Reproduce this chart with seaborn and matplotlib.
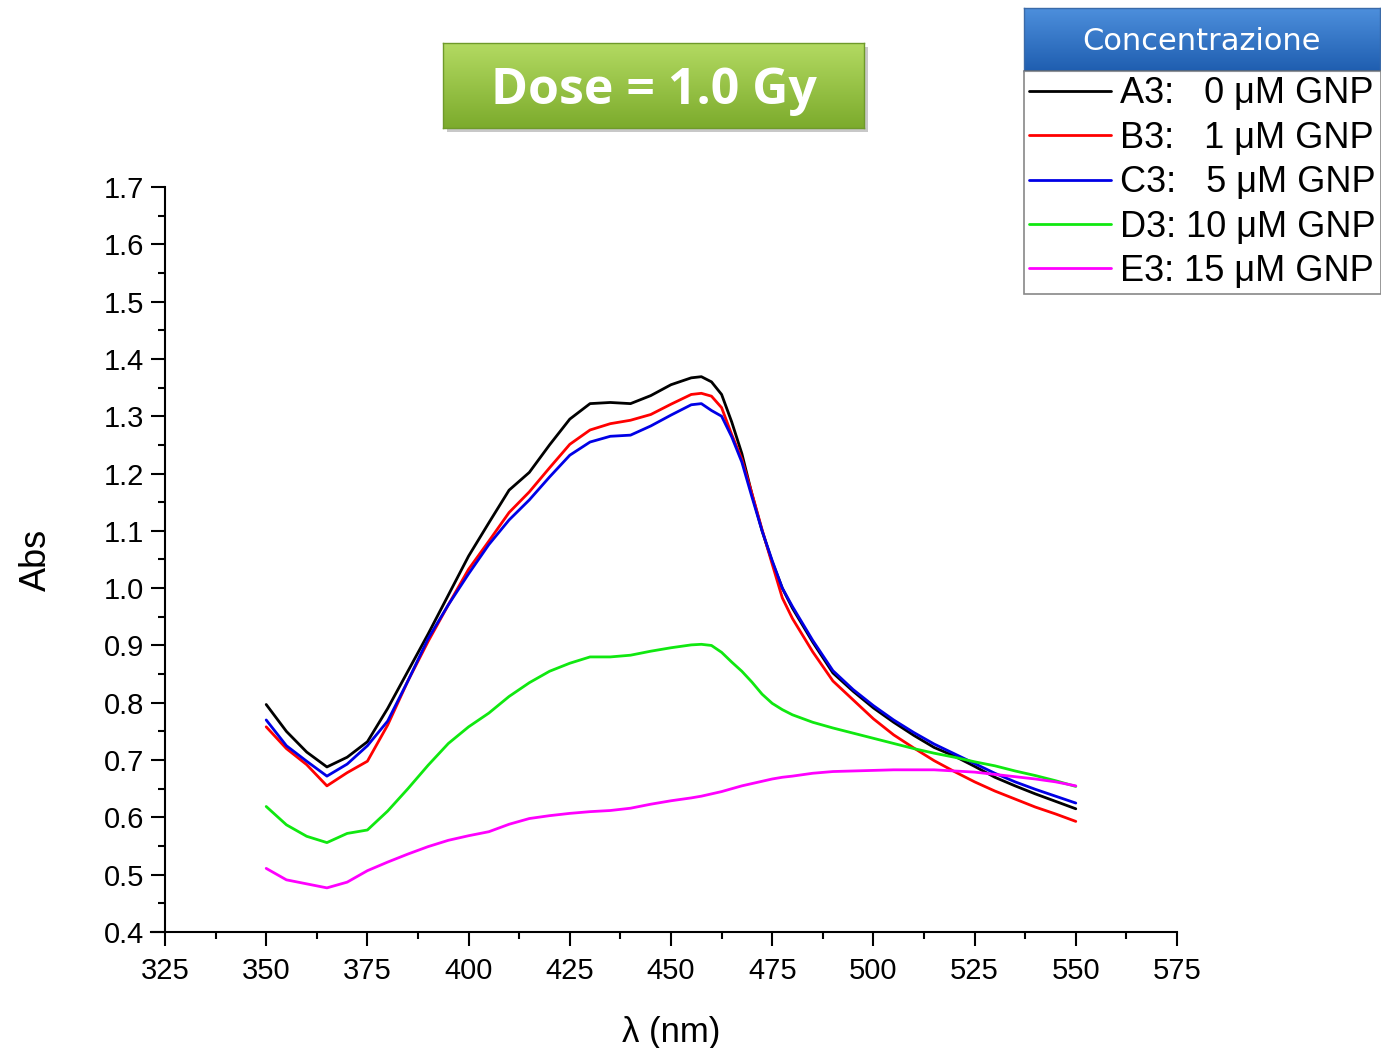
import numpy as np
import pandas as pd
import matplotlib
matplotlib.use("Agg")
import matplotlib.pyplot as plt
import seaborn as sns
from matplotlib.ticker import MultipleLocator, FormatStrFormatter

sns.set_theme(style="ticks")
plt.rcParams['font.family'] = ['Liberation Sans', 'DejaVu Sans']
plt.rcParams['text.color'] = 'black'

# wavelength grid (nm)
wavelength = list(range(350, 456, 5)) + [457.5, 460, 462.5, 465, 467.5, 470, 472.5, 475, 477.5, 480] \
    + list(range(485, 551, 5))

abs_a3 = [0.797, 0.750, 0.714, 0.688, 0.705, 0.732, 0.790, 0.855, 0.920, 0.988,
          1.056, 1.114, 1.171, 1.202, 1.250, 1.295, 1.322, 1.324, 1.322, 1.336,
          1.355, 1.367,
          1.369, 1.360, 1.338, 1.290, 1.235, 1.164, 1.100, 1.046, 1.000, 0.965,
          0.906, 0.852, 0.820, 0.791, 0.766, 0.743, 0.722, 0.707, 0.689, 0.670,
          0.655, 0.641, 0.628, 0.615]
abs_b3 = [0.758, 0.720, 0.692, 0.655, 0.678, 0.698, 0.761, 0.838, 0.907, 0.971,
          1.033, 1.082, 1.132, 1.168, 1.210, 1.251, 1.276, 1.287, 1.293, 1.303,
          1.321, 1.338,
          1.340, 1.335, 1.315, 1.268, 1.225, 1.165, 1.102, 1.042, 0.983, 0.947,
          0.889, 0.838, 0.805, 0.772, 0.744, 0.721, 0.699, 0.680, 0.662, 0.646,
          0.632, 0.618, 0.606, 0.593]
abs_c3 = [0.770, 0.725, 0.698, 0.672, 0.693, 0.725, 0.768, 0.838, 0.912, 0.971,
          1.025, 1.076, 1.119, 1.154, 1.194, 1.232, 1.255, 1.265, 1.267, 1.283,
          1.302, 1.320,
          1.322, 1.310, 1.300, 1.264, 1.220, 1.159, 1.100, 1.048, 1.000, 0.968,
          0.909, 0.856, 0.823, 0.795, 0.770, 0.748, 0.728, 0.711, 0.694, 0.677,
          0.662, 0.649, 0.637, 0.625]
abs_d3 = [0.619, 0.587, 0.567, 0.556, 0.572, 0.578, 0.611, 0.650, 0.691, 0.729,
          0.758, 0.782, 0.811, 0.835, 0.855, 0.869, 0.880, 0.880, 0.883, 0.890,
          0.896, 0.901,
          0.902, 0.900, 0.888, 0.871, 0.855, 0.836, 0.815, 0.799, 0.788, 0.779,
          0.766, 0.756, 0.747, 0.738, 0.729, 0.720, 0.712, 0.705, 0.697, 0.690,
          0.681, 0.673, 0.664, 0.654]
abs_e3 = [0.511, 0.491, 0.484, 0.477, 0.487, 0.507, 0.522, 0.536, 0.549, 0.560,
          0.568, 0.575, 0.588, 0.598, 0.603, 0.607, 0.610, 0.612, 0.616, 0.623,
          0.629, 0.634,
          0.637, 0.641, 0.645, 0.650, 0.655, 0.659, 0.663, 0.667, 0.670, 0.672,
          0.677, 0.680, 0.681, 0.682, 0.683, 0.683, 0.683, 0.681, 0.679, 0.675,
          0.671, 0.667, 0.662, 0.655]

labels = ["A3:   0 \u03bcM GNP", "B3:   1 \u03bcM GNP", "C3:   5 \u03bcM GNP",
          "D3: 10 \u03bcM GNP", "E3: 15 \u03bcM GNP"]
colors = ["#000000", "#ff0000", "#0000e6", "#10e810", "#ff00ff"]

series = [abs_a3, abs_b3, abs_c3, abs_d3, abs_e3]
df = pd.DataFrame({
    'wl': wavelength * len(series),
    'abs': sum(series, []),
    'sample': np.repeat(labels, len(wavelength)),
})

fig = plt.figure(figsize=(13.81, 10.48), dpi=100)
ax = fig.add_axes([165 / 1381, 1 - 932 / 1048, (1177 - 165) / 1381, (932 - 187) / 1048])

sns.lineplot(data=df, x='wl', y='abs', hue='sample', hue_order=labels,
             palette=colors, linewidth=2.0, ax=ax, legend=False)

ax.set_xlim(325, 575)
ax.set_ylim(0.4, 1.7)
ax.xaxis.set_major_locator(MultipleLocator(25))
ax.xaxis.set_minor_locator(MultipleLocator(12.5))
ax.yaxis.set_major_locator(MultipleLocator(0.1))
ax.yaxis.set_minor_locator(MultipleLocator(0.05))
ax.yaxis.set_major_formatter(FormatStrFormatter('%.1f'))
ax.tick_params(which='major', direction='out', length=10, width=1.5,
               labelsize=21, color='black', labelcolor='black', pad=5)
ax.tick_params(which='minor', direction='out', length=5, width=1.5, color='black')
ax.tick_params(axis='x', which='major', pad=8)
for side in ['top', 'right']:
    ax.spines[side].set_visible(False)
for side in ['left', 'bottom']:
    ax.spines[side].set_color('black')
    ax.spines[side].set_linewidth(1.5)
ax.spines['bottom'].set_bounds(321.6, 575)
ax.set_xlabel("\u03bb (nm)", fontsize=25, labelpad=22, color='black')
ax.set_ylabel("Abs", fontsize=26, labelpad=36, color='black')

# legend, with the blue header box above it
leg = fig.legend(ax.get_lines(), labels, loc='upper left',
                 bbox_to_anchor=(1024 / 1381, 1 - 71 / 1048),
                 bbox_transform=fig.transFigure, fontsize=26,
                 frameon=True, fancybox=False, edgecolor='#6a6a6a',
                 borderpad=0.15, borderaxespad=0, handlelength=2.25,
                 handletextpad=0.25, labelspacing=0.26)
leg.get_frame().set_linewidth(1.2)
for line in leg.get_lines():
    line.set_linewidth(2.0)
for t in leg.get_texts():
    t.set_color('black')


def gradient_box(rect, top, bottom, text, edge, ty=0.5, **kw):
    bax = fig.add_axes(rect)
    grad = np.linspace(0, 1, 100)[:, None, None]
    c0 = np.array(matplotlib.colors.to_rgb(top))
    c1 = np.array(matplotlib.colors.to_rgb(bottom))
    img = c0 * (1 - grad) + c1 * grad
    bax.imshow(img, aspect='auto', extent=[0, 1, 0, 1])
    bax.set_xticks([])
    bax.set_yticks([])
    for s in bax.spines.values():
        s.set_color(edge)
        s.set_linewidth(1.0)
    bax.text(0.5, ty, text, ha='center', va='center', transform=bax.transAxes, **kw)
    return bax


# shadow behind title box
sh = fig.add_axes([447 / 1381, 1 - 132 / 1048, 421 / 1381, 85 / 1048])
sh.set_facecolor('#c8c8c8')
sh.set_xticks([])
sh.set_yticks([])
for s in sh.spines.values():
    s.set_visible(False)

gradient_box([443 / 1381, 1 - 128 / 1048, 421 / 1381, 85 / 1048],
             '#b3da62', '#7cab2c', "Dose = 1.0 Gy", '#6f9a2a', ty=0.44,
             color='white', fontsize=36, fontweight='bold',
             family=['Open Sans', 'DejaVu Sans'])

gradient_box([1024 / 1381, 1 - 71 / 1048, 356 / 1381, 63 / 1048],
             '#4d8fdc', '#1f5eb0', "Concentrazione", '#3a6aa8', ty=0.47,
             color='white', fontsize=22,
             family=['Liberation Sans Narrow', 'DejaVu Sans'])

fig.savefig("out.png", dpi=100, facecolor='white')
